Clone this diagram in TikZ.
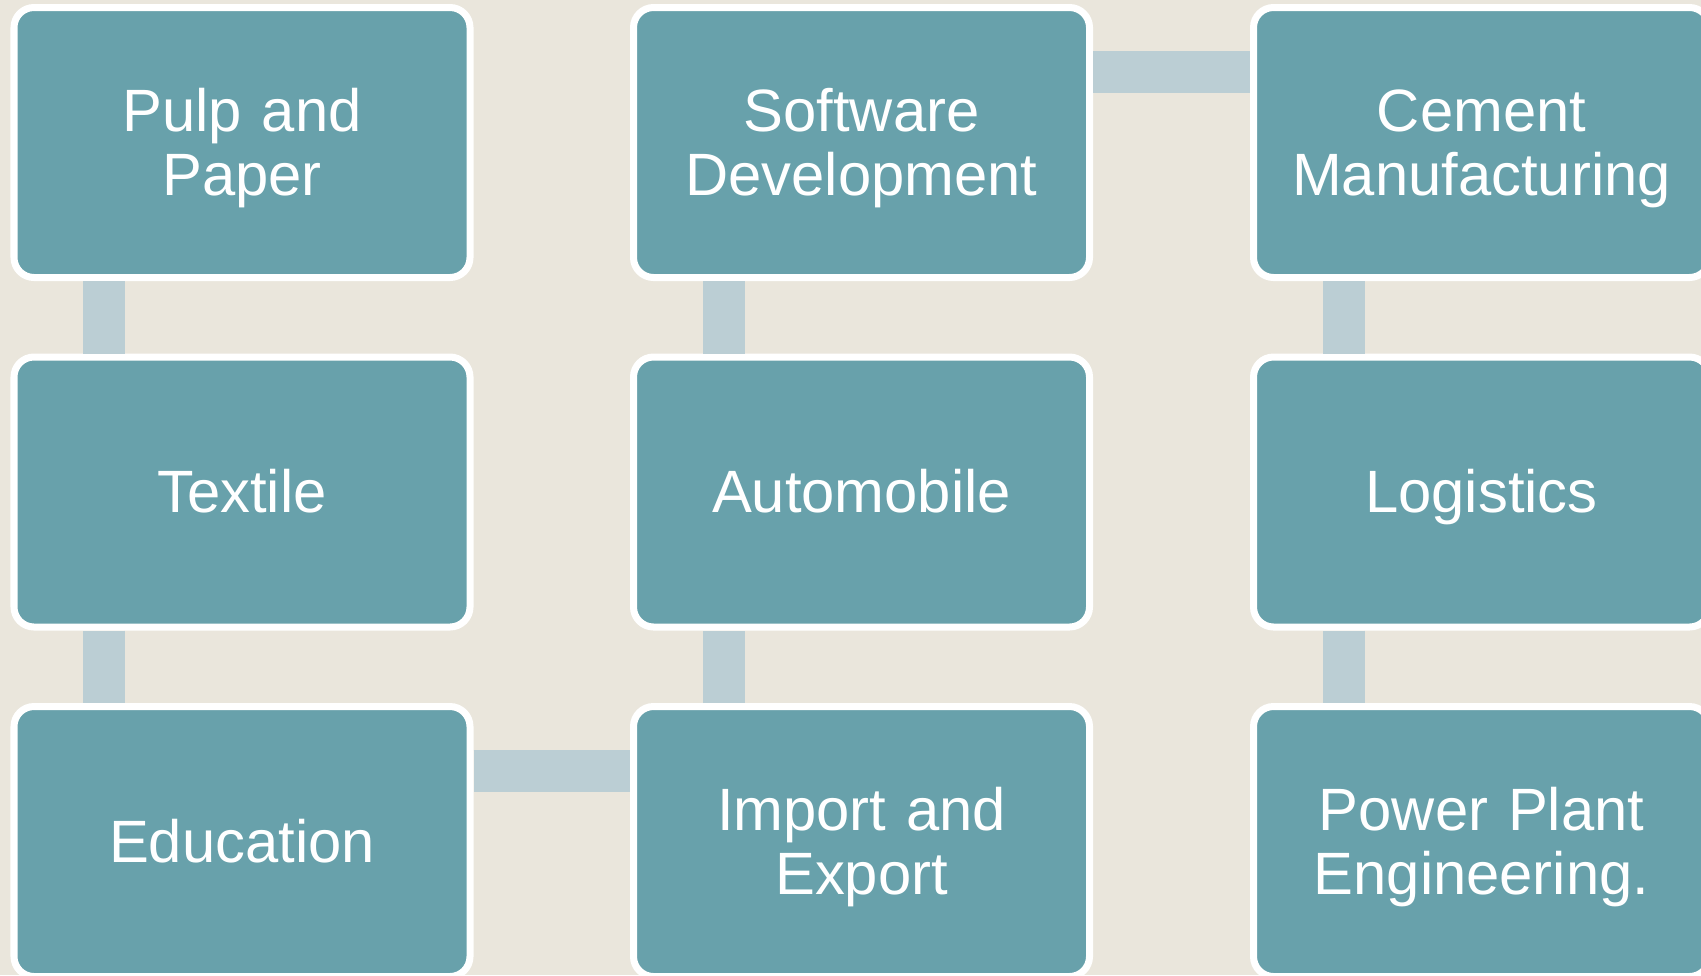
\documentclass[tikz,border=0pt]{standalone}
\usepackage{fontspec}
\setmainfont{Liberation Sans}
\usepackage{tikz}

\definecolor{bgbeige}{HTML}{EAE6DC}
\definecolor{boxteal}{HTML}{68A1AB}
\definecolor{linkgrey}{HTML}{BBCED4}

\newcommand\topstrut{\rule{0pt}{0.95em}}
\newcommand\botstrut{\rule[-0.25em]{0pt}{0.25em}}

\begin{document}
\begin{tikzpicture}[
	sector/.style={draw=white, line width=0.07cm, fill=boxteal, rounded corners=0.2cm,
		minimum width=4.56cm, minimum height=2.70cm, text width=4.3cm, align=center,
		text=white, font=\fontsize{17}{18.2}\selectfont,
		execute at begin node=\topstrut, execute at end node=\botstrut},
	link/.style={linkgrey, line width=0.42cm}
]
	% Background
	\fill[bgbeige] (0,0) rectangle (17.01,-9.75);
	\useasboundingbox (0,0) rectangle (17.01,-9.75);

	% Nodes
	\node[sector] (pulp) at (2.42,-1.425) {Pulp and\\Paper};
	\node[sector] (textile) at (2.42,-4.92) {Textile};
	\node[sector] (edu) at (2.42,-8.415) {Education};
	\node[sector] (soft) at (8.615,-1.425) {Software\\Development};
	\node[sector] (auto) at (8.615,-4.92) {Automobile};
	\node[sector] (imp) at (8.615,-8.415) {Import and\\Export};
	\node[sector] (cement) at (14.815,-1.425) {Cement\\Manufacturing};
	\node[sector] (logi) at (14.815,-4.92) {Logistics};
	\node[sector] (power) at (14.815,-8.415) {Power Plant\\Engineering.};

	% Links
	\draw[link] ([xshift=-1.38cm]pulp.south) -- ([xshift=-1.38cm]textile.north);
	\draw[link] ([xshift=-1.38cm]textile.south) -- ([xshift=-1.38cm]edu.north);
	\draw[link] ([yshift=0.71cm]edu.east) -- ([yshift=0.71cm]imp.west);
	\draw[link] ([xshift=-1.38cm]imp.north) -- ([xshift=-1.38cm]auto.south);
	\draw[link] ([xshift=-1.38cm]auto.north) -- ([xshift=-1.38cm]soft.south);
	\draw[link] ([yshift=0.71cm]soft.east) -- ([yshift=0.71cm]cement.west);
	\draw[link] ([xshift=-1.38cm]cement.south) -- ([xshift=-1.38cm]logi.north);
	\draw[link] ([xshift=-1.38cm]logi.south) -- ([xshift=-1.38cm]power.north);
\end{tikzpicture}
\end{document}
